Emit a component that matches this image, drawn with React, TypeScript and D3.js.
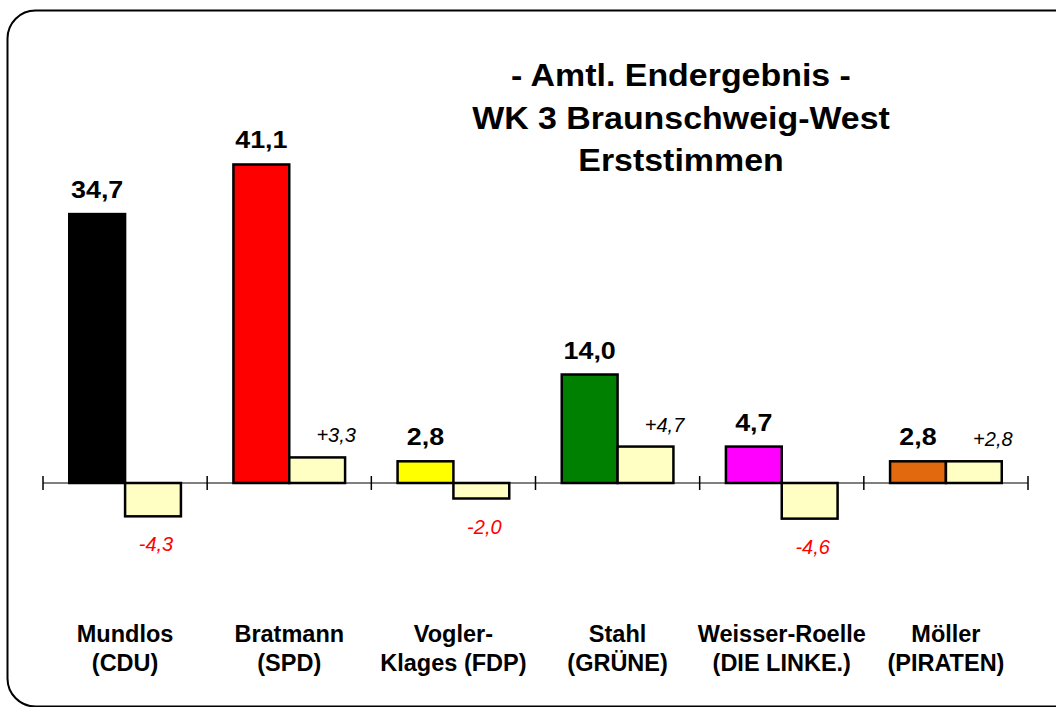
import React from 'react';
import * as d3 from 'd3';

// Kandidaten (zwei Zeilen je Beschriftung)
const candidates = ['Mundlos', 'Bratmann', 'Vogler', 'Stahl', 'Weisser-Roelle', 'Möller'];
const labelLine1 = ['Mundlos', 'Bratmann', 'Vogler-', 'Stahl', 'Weisser-Roelle', 'Möller'];
const labelLine2 = ['(CDU)', '(SPD)', 'Klages (FDP)', '(GRÜNE)', '(DIE LINKE.)', '(PIRATEN)'];
const partyColors = ['#000000', '#FF0000', '#FFFF00', '#008000', '#FF00FF', '#E2690E'];

// Erststimmen in % und Veränderung zur Vorwahl
const results = [34.7, 41.1, 2.8, 14.0, 4.7, 2.8];
const changes = [-4.3, 3.3, -2.0, 4.7, -4.6, 2.8];

const titleLines = ['- Amtl. Endergebnis -', 'WK 3 Braunschweig-West', 'Erststimmen'];

const W = 1056;
const H = 707;
const fmt = (v: number) => v.toFixed(1).replace('.', ',');
const fmtChg = (v: number) => (v > 0 ? '+' : '') + fmt(v);

// text, leicht in die Breite gezogen wie im Original
const Txt = ({ x, y, sx = 1, children, ...rest }: any) => (
  <text transform={`translate(${x},${y}) scale(${sx},1)`} textAnchor="middle" {...rest}>
    {children}
  </text>
);

export default function App() {
  const x = d3.scaleBand<string>().domain(candidates).range([43, 1028]).padding(0);
  const inner = d3
    .scaleBand<string>()
    .domain(['val', 'chg'])
    .range([0, x.bandwidth()])
    .paddingInner(0)
    .paddingOuter(0.47);
  const y = d3.scaleLinear().domain([0, 40]).range([483, 173]);
  const font = 'Liberation Sans, Arial, sans-serif';

  const ticks = [...candidates.map(c => x(c) as number), 1028];

  return (
    <svg
      width={W}
      height={H}
      style={{ position: 'absolute', left: 0, top: 0, background: '#fff' }}
      fontFamily={font}
    >
      <rect x={7.5} y={10.5} width={1090} height={696} rx={28} ry={28} fill="#fff" stroke="#000" strokeWidth={2} />

      {titleLines.map((t, i) => (
        <Txt key={t} x={681} y={86 + i * 42.5} sx={1.06} fontWeight="bold" fontSize={32}>
          {t}
        </Txt>
      ))}

      {/* Achse */}
      <line x1={43} x2={1028} y1={y(0)} y2={y(0)} stroke="#000" strokeWidth={1} />
      {ticks.map((t, i) => (
        <line key={i} x1={t} x2={t} y1={y(0) - 7} y2={y(0) + 7} stroke="#000" strokeWidth={1.5} />
      ))}

      {candidates.map((c, i) => {
        const x0 = x(c) as number;
        const bx = x0 + (inner('val') as number);
        const cx = x0 + (inner('chg') as number);
        const bw = inner.bandwidth();
        const v = results[i];
        const ch = changes[i];
        const cTop = Math.min(y(ch), y(0));
        const cH = Math.abs(y(ch) - y(0));
        const mid = x0 + x.bandwidth() / 2;
        return (
          <g key={c}>
            <rect x={bx} y={y(v)} width={bw} height={y(0) - y(v)} fill={partyColors[i]} stroke="#000" strokeWidth={2.5} />
            <rect x={cx} y={cTop} width={bw} height={cH} fill="#FFFFC4" stroke="#000" strokeWidth={2.5} />
            <Txt x={bx + bw / 2} y={y(v) - 16} sx={1.12} fontWeight="bold" fontSize={24}>
              {fmt(v)}
            </Txt>
            {ch > 0 ? (
              <Txt x={cx + bw / 2 + 19} y={y(ch) - 15} fontStyle="italic" fontSize={20}>
                {fmtChg(ch)}
              </Txt>
            ) : (
              <Txt x={cx + bw / 2 + 3} y={y(ch) + 35} fontStyle="italic" fontSize={20} fill="#FF0000">
                {fmtChg(ch)}
              </Txt>
            )}
            <Txt x={mid} y={642} fontWeight="bold" fontSize={23.5}>
              {labelLine1[i]}
            </Txt>
            <Txt x={mid} y={671} fontWeight="bold" fontSize={23.5}>
              {labelLine2[i]}
            </Txt>
          </g>
        );
      })}
    </svg>
  );
}
